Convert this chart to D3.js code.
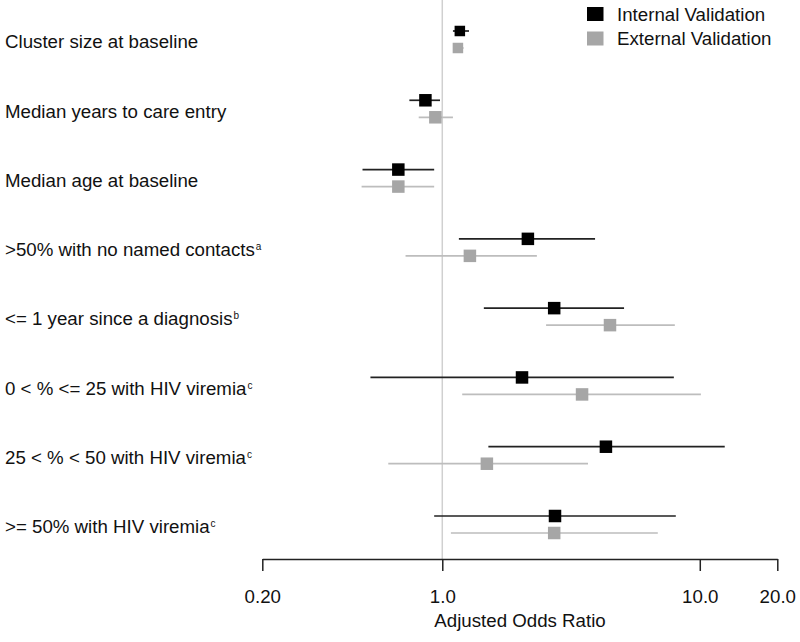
<!DOCTYPE html>
<html><head><meta charset="utf-8">
<script src="https://cdn.jsdelivr.net/npm/d3@7"></script>
<style>body{margin:0;background:#fff;} text{font-family:"Liberation Sans",Arial,sans-serif;fill:#111;}</style>
</head><body>
<svg id="chart" width="800" height="642"></svg>
<script>
const categories = [
  {main:"Cluster size at baseline", sup:""},
  {main:"Median years to care entry", sup:""},
  {main:"Median age at baseline", sup:""},
  {main:">50% with no named contacts", sup:"a"},
  {main:"<= 1 year since a diagnosis", sup:"b"},
  {main:"0 < % <= 25 with HIV viremia", sup:"c"},
  {main:"25 < % < 50 with HIV viremia", sup:"c"},
  {main:">= 50% with HIV viremia", sup:"c"}
];
const internalOR  = [1.17, 0.86, 0.675, 2.15, 2.72, 2.04, 4.32, 2.74];
const internalLo  = [1.10, 0.745, 0.49, 1.16, 1.45, 0.526, 1.51, 0.93];
const internalHi  = [1.27, 0.98, 0.93, 3.92, 5.08, 7.93, 12.5, 8.07];
const externalOR  = [1.15, 0.94, 0.675, 1.28, 4.48, 3.49, 1.49, 2.72];
const externalLo  = [1.11, 0.81, 0.486, 0.72, 2.53, 1.195, 0.617, 1.08];
const externalHi  = [1.21, 1.10, 0.93, 2.33, 8.0, 10.1, 3.68, 6.87];
const tickValues = [0.2, 1, 10, 20];
const tickLabels = ["0.20", "1.0", "10.0", "20.0"];
const seriesNames = ["Internal Validation", "External Validation"];
const seriesColors = ["#000000", "#a6a6a6"];
const lineColors = ["#222222", "#bdbdbd"];

const FS = 18.7;
const svg = d3.select("#chart");
const x = d3.scaleLog().domain([0.2, 20]).range([262.3, 777.3]);
const y = d3.scalePoint().domain(d3.range(categories.length)).range([39, 524]);

// reference line at 1
svg.append("line").attr("x1", x(1)).attr("x2", x(1)).attr("y1", 0).attr("y2", 559)
  .attr("stroke", "#d0d0d0").attr("stroke-width", 1.5);

// labels
const lab = svg.append("g");
categories.forEach((c, i) => {
  const t = lab.append("text").attr("x", 5).attr("y", y(i) + 9.3)
    .attr("font-size", FS).text(c.main);
  if (c.sup) t.append("tspan").attr("font-size", 10).attr("dy", -6).attr("dx", 1).text(c.sup);
});

const series = [
  {or: internalOR, lo: internalLo, hi: internalHi, off: -8},
  {or: externalOR, lo: externalLo, hi: externalHi, off: 9}
];
series.forEach((s, k) => {
  const g = svg.append("g");
  s.or.forEach((v, i) => {
    const yy = y(i) + s.off;
    g.append("line").attr("x1", x(s.lo[i])).attr("x2", x(s.hi[i]))
      .attr("y1", yy).attr("y2", yy).attr("stroke", lineColors[k]).attr("stroke-width", 1.7);
    const sz = i === 0 ? 10.5 : 12.5;
    g.append("rect").attr("x", x(v) - sz/2).attr("y", yy - sz/2)
      .attr("width", sz).attr("height", sz).attr("fill", seriesColors[k]);
  });
});

// axis
const axis = d3.axisBottom(x).tickValues(tickValues)
  .tickFormat((d, i) => tickLabels[i]).tickSize(12).tickSizeOuter(0).tickPadding(19);
const ax = svg.append("g").attr("transform", "translate(0,559)").call(axis);
ax.select(".domain").attr("stroke", "#222").attr("stroke-width", 1.5);
ax.selectAll(".tick line").attr("stroke", "#222").attr("stroke-width", 1.5);
ax.selectAll(".tick text").attr("font-size", FS).attr("fill", "#111")
  .style("font-family", "'Liberation Sans', Arial, sans-serif");

svg.append("text").attr("x", 520).attr("y", 627).attr("text-anchor", "middle")
  .attr("font-size", FS).text("Adjusted Odds Ratio");

// legend
const leg = svg.append("g");
seriesNames.forEach((n, k) => {
  const yy = 14 + k * 24.5;
  leg.append("rect").attr("x", 587).attr("y", yy - 7).attr("width", 16.5).attr("height", 14)
    .attr("fill", seriesColors[k]);
  leg.append("text").attr("x", 617).attr("y", yy + 6.8).attr("font-size", FS).text(n);
});
</script>
</body></html>
